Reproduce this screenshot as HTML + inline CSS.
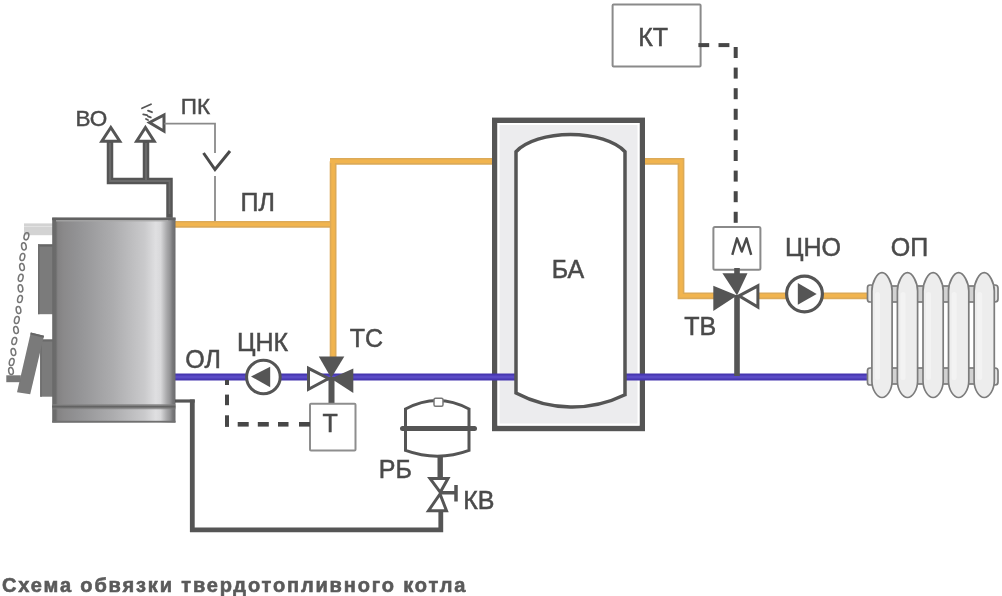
<!DOCTYPE html>
<html><head><meta charset="utf-8">
<style>
html,body{margin:0;padding:0;background:#fff;width:1002px;height:596px;overflow:hidden}
svg{display:block;position:absolute;left:0;top:0;filter:blur(0.4px)}
text{font-family:"Liberation Sans",sans-serif;fill:#4a4a4a}
.cap{position:absolute;left:2px;top:574px;font-family:"Liberation Sans",sans-serif;font-weight:bold;font-size:20px;letter-spacing:1.86px;color:#5a5a5a;-webkit-text-stroke:0.6px #5a5a5a;white-space:nowrap;line-height:23px;filter:blur(0.3px)}
</style></head><body>
<svg width="1002" height="596" viewBox="0 0 1002 596">
<defs>
<linearGradient id="boil" gradientUnits="userSpaceOnUse" x1="52.2" x2="175.5" y1="0" y2="0">
<stop offset="0" stop-color="#696969"/>
<stop offset="0.03" stop-color="#6c6c6c"/>
<stop offset="0.045" stop-color="#838283"/>
<stop offset="0.09" stop-color="#8a898a"/>
<stop offset="0.20" stop-color="#929294"/>
<stop offset="0.50" stop-color="#adadaf"/>
<stop offset="0.75" stop-color="#cacacc"/>
<stop offset="0.84" stop-color="#dfdfe1"/>
<stop offset="0.88" stop-color="#d8d8da"/>
<stop offset="0.905" stop-color="#c0c0c2"/>
<stop offset="0.93" stop-color="#a8a8aa"/>
<stop offset="0.955" stop-color="#959597"/>
<stop offset="0.975" stop-color="#7a7a7c"/>
<stop offset="1" stop-color="#6a6a6c"/>
</linearGradient>
<linearGradient id="band" x1="0" x2="0" y1="0" y2="1">
<stop offset="0" stop-color="#8a8a8a" stop-opacity="0.6"/>
<stop offset="0.5" stop-color="#5e5e5e"/>
<stop offset="1" stop-color="#8a8a8a" stop-opacity="0.6"/>
</linearGradient>
</defs>

<!-- orange pipes -->
<g stroke="#dcaa58" stroke-width="6.8" fill="none" stroke-linejoin="miter">
<path d="M175,224.3 H330"/>
<path d="M333.1,161.3 V360 M330,161.3 H494"/>
<path d="M643,161.3 H681 V295.8 H715"/>
<path d="M757,295.8 H872"/>
</g>
<g stroke="#f1b44e" stroke-width="3.6" fill="none" stroke-linejoin="miter">
<path d="M175,224.3 H330"/>
<path d="M333.1,161.3 V360 M330,161.3 H494"/>
<path d="M643,161.3 H681 V295.8 H715"/>
<path d="M757,295.8 H872"/>
</g>

<!-- tank БА -->
<rect x="494.7" y="120.3" width="147.6" height="308.2" fill="#ececee" stroke="#555" stroke-width="5.4"/>
<rect x="498.5" y="124" width="140" height="300.5" fill="none" stroke="#fff" stroke-width="2"/>

<!-- blue pipe -->
<path d="M175,377 H872" stroke="#4637b0" stroke-width="7.2" fill="none"/>
<path d="M175,377 H872" stroke="#5a4bc6" stroke-width="3" fill="none"/>

<!-- inner vessel -->
<path d="M516,151.7 A60 29.5 0 0 1 625,151.7 V394.8 A120 120 0 0 1 516,393 Z" fill="#fff" stroke="#555" stroke-width="3.5"/>


<!-- chimney -->
<g stroke="#555" stroke-width="6.5" fill="none" stroke-linejoin="miter">
<path d="M169.5,218 V181 H110 V141"/>
<path d="M146,181 V141"/>
</g>
<g stroke="#6c6c6c" stroke-width="1.8" fill="none" stroke-linejoin="miter">
<path d="M169.5,214 V181 H110 V143"/>
<path d="M146,181 V143"/>
</g>
<g stroke="#555" stroke-width="3" fill="#fff" stroke-linejoin="miter">
<path d="M110.8,127.5 L101.8,141.3 H119.8 Z"/>
<path d="M145.4,127.5 L136.6,141.3 H154.2 Z"/>
<path d="M149.5,122.5 L164,115 V131.2 Z"/>
</g>
<path d="M142,108.3 L151,104.3 M148,110.6 L152,112.2 M143.2,114.3 L147,115.2 M148,116.3 L150.8,117.4 M146,119 L148,120" stroke="#555" stroke-width="1.8" fill="none" stroke-linecap="round"/>
<path d="M164.3,123.6 H215 V153 M215,176 V221" stroke="#8a8a8a" stroke-width="1.8" fill="none"/>
<path d="M203.5,153 L215,169.5 L230,151" stroke="#4a4a4a" stroke-width="3" fill="none"/>

<!-- boiler -->
<rect x="24" y="223.4" width="29" height="11.8" fill="#d3d3d3"/>
<rect x="24" y="226" width="29" height="1" fill="#e2e2e2"/>
<g>
<rect x="38" y="244.4" width="18" height="69.8" fill="#7b7b7b"/>
<rect x="38" y="244.4" width="18" height="2.2" fill="#666"/>
<rect x="38" y="244.4" width="1.6" height="69.8" fill="#6e6e6e"/>
<rect x="40.2" y="339.5" width="16" height="57.2" fill="#7b7b7b"/>
<rect x="40.2" y="339.5" width="16" height="2" fill="#6a6a6a"/>
<rect x="40.2" y="339.5" width="1.6" height="57.2" fill="#6e6e6e"/>
</g>
<path d="M30.8,332.5 L44,335.7 L30.2,394.2 L17,392.3 Z" fill="#7a7a7a"/>
<path d="M30.8,332.5 L44,335.7 L43.5,337.8 L30.3,334.6 Z" fill="#666"/>
<rect x="6.3" y="375.3" width="14.5" height="6.9" fill="#777"/>
<g fill="none" stroke="#767676" stroke-width="1.5">
<ellipse cx="26.4" cy="236.3" rx="2.3" ry="3.6" transform="rotate(15 26.4 236.3)"/>
<ellipse cx="23.9" cy="246.4" rx="2.3" ry="3.6" transform="rotate(-10 23.9 246.4)"/>
<ellipse cx="22.4" cy="257" rx="2.3" ry="3.6" transform="rotate(15 22.4 257)"/>
<ellipse cx="22" cy="267" rx="2.3" ry="3.6" transform="rotate(-10 22 267)"/>
<ellipse cx="20.7" cy="277.8" rx="2.3" ry="3.6" transform="rotate(15 20.7 277.8)"/>
<ellipse cx="20.5" cy="288.4" rx="2.3" ry="3.6" transform="rotate(-10 20.5 288.4)"/>
<ellipse cx="20" cy="299" rx="2.3" ry="3.6" transform="rotate(15 20 299)"/>
<ellipse cx="18.5" cy="310" rx="2.3" ry="3.6" transform="rotate(-10 18.5 310)"/>
<ellipse cx="16.8" cy="320" rx="2.3" ry="3.6" transform="rotate(15 16.8 320)"/>
<ellipse cx="16" cy="330" rx="2.3" ry="3.6" transform="rotate(-10 16 330)"/>
<ellipse cx="14.3" cy="341" rx="2.3" ry="3.6" transform="rotate(15 14.3 341)"/>
<ellipse cx="13.4" cy="352" rx="2.3" ry="3.6" transform="rotate(-10 13.4 352)"/>
<ellipse cx="11.7" cy="362" rx="2.3" ry="3.6" transform="rotate(15 11.7 362)"/>
<ellipse cx="11" cy="371" rx="2.3" ry="3.6" transform="rotate(-10 11 371)"/>
</g>
<rect x="52.2" y="217.6" width="123.3" height="205" fill="url(#boil)"/>
<rect x="52.2" y="217.6" width="123.3" height="2.6" fill="#626262"/>
<rect x="56" y="220.2" width="112" height="1.2" fill="#a9a9a9"/>
<rect x="52.2" y="404" width="123.3" height="5.4" fill="url(#band)"/>
<rect x="52.2" y="420.8" width="123.3" height="1.8" fill="#707070"/>
<!-- return pipe -->
<path d="M175,401 H194.7" stroke="#555" stroke-width="3.2" fill="none"/>
<path d="M192.3,399.4 V529.8 H440.8 V511" stroke="#555" stroke-width="4.8" fill="none"/>

<!-- pump ЦНК -->
<circle cx="263.4" cy="377" r="16.8" fill="#fff" stroke="#555" stroke-width="3"/>
<path d="M251,376.5 L270.2,366.8 V387.3 Z" fill="#555"/>

<!-- valve ТС -->
<rect x="328.5" y="377" width="6" height="27" fill="#555"/>
<path d="M318.8,356.5 H344.3 L331.2,378 Z" fill="#555"/>
<path d="M353.3,368.5 V393 L331,378.5 Z" fill="#555"/>
<path d="M308.5,368.3 V389.2 L328.5,378.5 Z" fill="#fff" stroke="#555" stroke-width="3" stroke-linejoin="miter"/>
<rect x="310" y="403.8" width="45.5" height="46.6" rx="1" fill="#fff" stroke="#8e8e8e" stroke-width="2"/>


<!-- dashed ЦНК-T -->
<g fill="#474747">
<rect x="225" y="380" width="4" height="5"/>
<rect x="225" y="394.6" width="4" height="10.6"/>
<rect x="225" y="415.3" width="4" height="11.6"/>
<rect x="237.7" y="422" width="11" height="4.6"/>
<rect x="257.8" y="422" width="11" height="4.6"/>
<rect x="278" y="422" width="10.5" height="4.6"/>
<rect x="299" y="422" width="11" height="4.6"/>
</g>

<!-- РБ -->
<path d="M405.5,409 Q437.5,392 469,409 V450.4 Q437.5,462 405.5,450.4 Z" fill="#fff" stroke="#555" stroke-width="3"/>
<path d="M402.5,428.6 H474.5" stroke="#555" stroke-width="5" stroke-linecap="round"/>
<rect x="434" y="398.3" width="9" height="8" rx="1.5" fill="#fff" stroke="#777" stroke-width="1.5"/>
<rect x="437.5" y="457" width="5.4" height="21" fill="#555"/>
<g stroke="#555" stroke-width="3" fill="#fff" stroke-linejoin="miter">
<path d="M430,478.4 H448 L440.3,492.3 Z"/>
<path d="M440,494 L428.5,510.7 H446.5 Z"/>
</g>
<path d="M440,492.7 H456 M456,485 V501.5" stroke="#555" stroke-width="3.5" fill="none"/>

<!-- КТ -->
<rect x="612.6" y="4.6" width="88" height="61.8" rx="1" fill="#fff" stroke="#8a8a8a" stroke-width="2"/>

<g fill="#474747">
<rect x="698.4" y="43.1" width="10.8" height="4"/>
<rect x="718.5" y="43.1" width="10.9" height="4"/>
<rect x="733.7" y="47.0" width="4" height="11"/>
<rect x="733.7" y="67.6" width="4" height="11"/>
<rect x="733.7" y="88.2" width="4" height="11"/>
<rect x="733.7" y="108.8" width="4" height="11"/>
<rect x="733.7" y="129.4" width="4" height="11"/>
<rect x="733.7" y="150.0" width="4" height="11"/>
<rect x="733.7" y="170.6" width="4" height="11"/>
<rect x="733.7" y="191.2" width="4" height="11"/>
<rect x="733.7" y="211.8" width="4" height="11"/>
</g>

<!-- М -->
<rect x="713.4" y="227" width="47" height="42.7" rx="1.5" fill="#fff" stroke="#8a8a8a" stroke-width="2"/>


<path d="M732.3,254.8 L737,238.3 L741.8,251.5 L746.5,238.3 L751.2,254.8" fill="none" stroke="#4a4a4a" stroke-width="2.4" stroke-linejoin="round"/>
<!-- valve ТВ -->
<rect x="734.2" y="295" width="5.6" height="81" fill="#555"/><rect x="734.2" y="268" width="5.6" height="6" fill="#555"/>
<path d="M722.4,273.3 H747.5 L737,295.5 Z" fill="#555"/>
<path d="M713.3,285.8 V311 L737,295.5 Z" fill="#555"/>
<path d="M757.9,285.8 V307 L739,295.8 Z" fill="#fff" stroke="#555" stroke-width="3" stroke-linejoin="miter"/>

<!-- pump ЦНО -->
<circle cx="804.5" cy="294" r="17.9" fill="#fff" stroke="#555" stroke-width="3.2"/>
<path d="M816.7,294 L797.8,283 V304.7 Z" fill="#555"/>

<!-- radiator -->
<g stroke="#7c7c7c" stroke-width="1.7">
<rect x="867.5" y="285" width="6" height="17" rx="2.5" fill="#e4e4e4"/>
<rect x="867.5" y="368" width="6" height="17" rx="2.5" fill="#e4e4e4"/>
<rect x="991" y="285" width="7" height="17" rx="3" fill="#e4e4e4"/>
<rect x="991" y="368" width="7" height="17" rx="3" fill="#e4e4e4"/>
<rect x="891.0" y="286" width="7.5" height="16" fill="#d2d2d2"/>
<rect x="891.0" y="368" width="7.5" height="16" fill="#d2d2d2"/>
<rect x="916.5" y="286" width="7.6" height="16" fill="#d2d2d2"/>
<rect x="916.5" y="368" width="7.6" height="16" fill="#d2d2d2"/>
<rect x="942.1" y="286" width="7.5" height="16" fill="#d2d2d2"/>
<rect x="942.1" y="368" width="7.5" height="16" fill="#d2d2d2"/>
<rect x="967.6" y="286" width="7.6" height="16" fill="#d2d2d2"/>
<rect x="967.6" y="368" width="7.6" height="16" fill="#d2d2d2"/>
<path d="M871.9,291 C871.9,282 877.2,272.7 882.0,272.7 C886.8,272.7 892.1,282 892.1,291 V381 C892.1,390 886.8,397.5 882.0,397.5 C877.2,397.5 871.9,390 871.9,381 Z" fill="#ededed"/>
<path d="M897.4,291 C897.4,282 902.7,272.7 907.5,272.7 C912.3,272.7 917.6,282 917.6,291 V381 C917.6,390 912.3,397.5 907.5,397.5 C902.7,397.5 897.4,390 897.4,381 Z" fill="#ededed"/>
<path d="M923.0,291 C923.0,282 928.3,272.7 933.1,272.7 C937.9,272.7 943.2,282 943.2,291 V381 C943.2,390 937.9,397.5 933.1,397.5 C928.3,397.5 923.0,390 923.0,381 Z" fill="#ededed"/>
<path d="M948.5,291 C948.5,282 953.8,272.7 958.6,272.7 C963.4,272.7 968.8,282 968.8,291 V381 C968.8,390 963.4,397.5 958.6,397.5 C953.8,397.5 948.5,390 948.5,381 Z" fill="#ededed"/>
<path d="M974.1,291 C974.1,282 979.4,272.7 984.2,272.7 C989.0,272.7 994.3,282 994.3,291 V381 C994.3,390 989.0,397.5 984.2,397.5 C979.4,397.5 974.1,390 974.1,381 Z" fill="#ededed"/>
</g>
<g fill="#f3f3f3">
<rect x="875.0" y="292" width="5" height="88" rx="2.5"/>
<rect x="900.5" y="292" width="5" height="88" rx="2.5"/>
<rect x="926.1" y="292" width="5" height="88" rx="2.5"/>
<rect x="951.6" y="292" width="5" height="88" rx="2.5"/>
<rect x="977.2" y="292" width="5" height="88" rx="2.5"/>
</g>

<!-- labels -->
<g font-size="25" text-anchor="middle" stroke="#4a4a4a" stroke-width="0.5">
<text x="257.7" y="211.3">ПЛ</text>
<text x="203.1" y="368.4">ОЛ</text>
<text x="262.5" y="351.4">ЦНК</text>
<text x="366.4" y="347.3">ТС</text>
<text x="395.4" y="477.7">РБ</text>
<text x="478.8" y="509.3">КВ</text>
<text x="567.9" y="278.3">БА</text>
<text x="653.2" y="46.0">КТ</text>
<text x="813.0" y="256.2">ЦНО</text>
<text x="700.2" y="335.1">ТВ</text>
<text x="909.5" y="255.7">ОП</text>
<text x="330.2" y="431.6">Т</text>
</g>
<g font-size="22.5" text-anchor="middle" stroke="#4a4a4a" stroke-width="0.45">
<text x="91.5" y="126.4">ВО</text>
<text x="195.5" y="114.1">ПК</text>
</g>
</svg>
<div class="cap">Схема обвязки твердотопливного котла</div>
</body></html>
